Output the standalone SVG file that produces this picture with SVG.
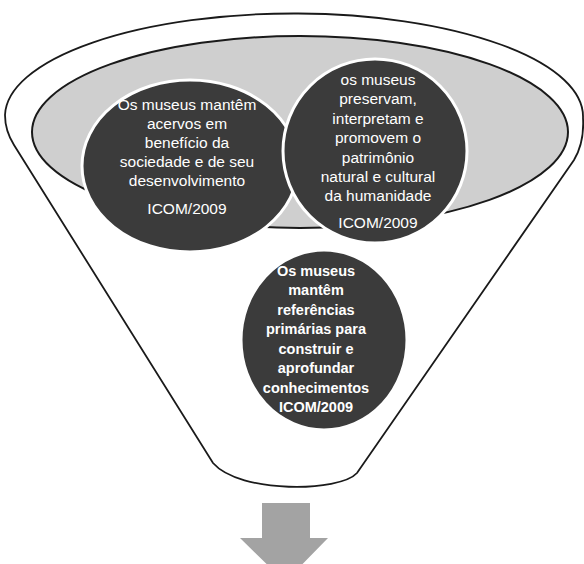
<svg xmlns="http://www.w3.org/2000/svg" width="584" height="564" viewBox="0 0 584 564">
<style>
.outline{fill:#ffffff;stroke:#1a1a1a;stroke-width:1.8}
.band{fill:#cfcfcf;stroke:#1a1a1a;stroke-width:2}
.node{fill:#3b3b3b;stroke:#ffffff;stroke-width:3}
.t{font-family:"Liberation Sans",Arial,sans-serif;font-size:15.5px;fill:#ffffff;text-anchor:middle}
.tb{font-family:"Liberation Sans",Arial,sans-serif;font-size:14.5px;font-weight:bold;fill:#ffffff;text-anchor:middle}
.arrow{fill:#a3a3a3}
</style>
<rect width="584" height="564" fill="#ffffff"/>
<g id="funnel">
<path class="outline" d="M 5,115 A 289,103 0 0 1 583,118 C 584,135 580,150 574,160 L 357,473 C 340,492 240,494 213,463 L 14,145 C 9,137 5,125 5,115 Z"/>
</g>
<g id="band">
<ellipse class="band" cx="300" cy="132" rx="268" ry="96"/>
</g>
<g id="node-left">
<ellipse class="node" cx="190" cy="166" rx="108" ry="86"/>
<text class="t" x="187" y="110">Os museus mantêm</text>
<text class="t" x="187" y="129">acervos em</text>
<text class="t" x="187" y="148">benefício da</text>
<text class="t" x="187" y="167">sociedade e de seu</text>
<text class="t" x="187" y="186">desenvolvimento</text>
<text class="t" x="187" y="214">ICOM/2009</text>
</g>
<g id="node-right">
<circle class="node" cx="375" cy="151" r="92"/>
<text class="t" x="378" y="85">os museus</text>
<text class="t" x="378" y="104">preservam,</text>
<text class="t" x="378" y="124">interpretam e</text>
<text class="t" x="378" y="143">promovem o</text>
<text class="t" x="378" y="163">patrimônio</text>
<text class="t" x="378" y="182">natural e cultural</text>
<text class="t" x="378" y="201">da humanidade</text>
<text class="t" x="378" y="228">ICOM/2009</text>
</g>
<g id="node-bottom">
<ellipse class="node" cx="324" cy="340" rx="83" ry="90"/>
<text class="tb" x="316" y="276">Os museus</text>
<text class="tb" x="316" y="295">mantêm</text>
<text class="tb" x="316" y="315">referências</text>
<text class="tb" x="316" y="334">primárias para</text>
<text class="tb" x="316" y="354">construir e</text>
<text class="tb" x="316" y="373">aprofundar</text>
<text class="tb" x="316" y="393">conhecimentos</text>
<text class="tb" x="316" y="412">ICOM/2009</text>
</g>
<g id="connectors">
<polygon class="arrow" points="262,503 310,503 310,538 328,538 285,582 240,538 262,538"/>
</g>
</svg>
